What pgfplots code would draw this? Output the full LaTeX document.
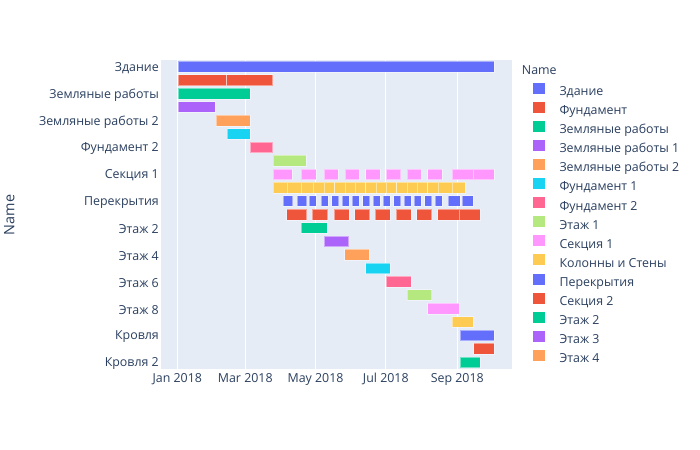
\documentclass[border=0pt]{standalone}
\usepackage{fontspec}
\setmainfont{Open Sans}
\usepackage{pgfplots}
\pgfplotsset{compat=1.18}
\definecolor{c0}{HTML}{636EFA}
\definecolor{c1}{HTML}{EF553B}
\definecolor{c2}{HTML}{00CC96}
\definecolor{c3}{HTML}{AB63FA}
\definecolor{c4}{HTML}{FFA15A}
\definecolor{c5}{HTML}{19D3F3}
\definecolor{c6}{HTML}{FF6692}
\definecolor{c7}{HTML}{B6E880}
\definecolor{c8}{HTML}{FF97FF}
\definecolor{c9}{HTML}{FECB52}
\definecolor{bgc}{HTML}{E5ECF6}
\definecolor{tc}{HTML}{2A3F5F}
% \gb{row}{start day}{end day}{colour}
\newcommand{\gb}[4]{%
  \pgfmathsetmacro\ylo{#1-0.4}\pgfmathsetmacro\yhi{#1+0.4}%
  \edef\tmp{\noexpand\addplot[forget plot, fill=#4, draw=white, draw opacity=0.45, line width=0.6bp]
    coordinates {(#2,\ylo) (#3,\ylo) (#3,\yhi) (#2,\yhi)} -- cycle;}\tmp}
\begin{document}
\begin{tikzpicture}
\useasboundingbox (0,0) rectangle (700bp,450bp);
\begin{axis}[
  at={(161bp,81bp)}, anchor=south west,
  scale only axis, width=350.5bp, height=309bp,
  xmin=-14.15, xmax=290.1,
  ymin=-0.5, ymax=22.5, y dir=reverse,
  axis background/.style={fill=bgc},
  axis line style={draw=none},
  major tick length=0pt,
  xmajorgrids, grid style={white, line width=1bp},
  xtick={0,59,120,181,243},
  xticklabels={Jan 2018, Mar 2018, May 2018, Jul 2018, Sep 2018},
  ytick={0,2,4,6,8,10,12,14,16,18,20,22},
  yticklabels={Здание, Земляные работы, Земляные работы 2, Фундамент 2, Секция 1, Перекрытия, Этаж 2, Этаж 4, Этаж 6, Этаж 8, Кровля, Кровля 2},
  xticklabel style={font=\fontsize{12.4bp}{14bp}\selectfont, text=tc, inner sep=0pt, anchor=north, yshift=-4bp},
  yticklabel style={font=\fontsize{12.4bp}{14bp}\selectfont, text=tc, inner sep=0pt, anchor=east, xshift=-2bp, yshift=-1.3bp},
  legend image code/.code={\fill[#1, draw=none] (0bp,-1.2bp) rectangle (12bp,9.8bp);},
  legend cell align=left,
  legend style={at={(1,1)}, anchor=north west, xshift=21.5bp, yshift=-22.5bp,
    draw=none, fill=none, inner sep=0pt, row sep=3.63bp, column sep=14.3bp,
    nodes={inner sep=0pt, text height=8.7bp, text depth=2.6bp, font=\fontsize{12.4bp}{14bp}\selectfont, text=tc}},
]
\gb{0}{0.9}{275.2}{c0}
\gb{1}{0.9}{42.9}{c1}
\gb{1}{42.9}{82.8}{c1}
\gb{2}{0.9}{63}{c2}
\gb{3}{0.9}{32.7}{c3}
\gb{4}{33.6}{63}{c4}
\gb{5}{43.4}{63}{c5}
\gb{6}{63.4}{82.8}{c6}
\gb{7}{83.3}{111.7}{c7}
% Sekciya 1
\gb{8}{83.3}{99.8}{c8}
\gb{8}{107.4}{120.5}{c8}
\gb{8}{127.3}{139.8}{c8}
\gb{8}{145.8}{158}{c8}
\gb{8}{163.5}{175.8}{c8}
\gb{8}{181.4}{193.9}{c8}
\gb{8}{199.4}{211.8}{c8}
\gb{8}{217.4}{229.8}{c8}
\gb{8}{238.5}{257}{c8}
\gb{8}{257}{275.2}{c8}
% Kolonny i steny
\gb{9}{83.3}{95.2}{c9}
\gb{9}{95.2}{107.4}{c9}
\gb{9}{107.4}{117.8}{c9}
\gb{9}{117.8}{127.3}{c9}
\gb{9}{127.3}{136.6}{c9}
\gb{9}{136.6}{145.5}{c9}
\gb{9}{145.5}{154.2}{c9}
\gb{9}{154.2}{163.5}{c9}
\gb{9}{163.5}{172.4}{c9}
\gb{9}{172.4}{181.4}{c9}
\gb{9}{181.4}{190.4}{c9}
\gb{9}{190.4}{199.4}{c9}
\gb{9}{199.4}{208.3}{c9}
\gb{9}{208.3}{217.4}{c9}
\gb{9}{217.4}{226.3}{c9}
\gb{9}{226.3}{238.5}{c9}
\gb{9}{238.5}{249.8}{c9}
% Perekrytiya
\gb{10}{92}{100.2}{c0}
\gb{10}{104.2}{112.3}{c0}
\gb{10}{114.5}{120.5}{c0}
\gb{10}{124.7}{130.8}{c0}
\gb{10}{133.9}{140}{c0}
\gb{10}{142.9}{149}{c0}
\gb{10}{151.9}{158}{c0}
\gb{10}{160.9}{167}{c0}
\gb{10}{169.9}{176}{c0}
\gb{10}{178.8}{184.9}{c0}
\gb{10}{187.9}{194}{c0}
\gb{10}{196.8}{202.9}{c0}
\gb{10}{205.8}{211.9}{c0}
\gb{10}{214.8}{220.9}{c0}
\gb{10}{223.7}{229.8}{c0}
\gb{10}{235.3}{245.3}{c0}
\gb{10}{247.2}{257.1}{c0}
% Sekciya 2
\gb{11}{95}{112.3}{c1}
\gb{11}{117.2}{130.5}{c1}
\gb{11}{136}{149}{c1}
\gb{11}{154}{167}{c1}
\gb{11}{171.9}{184.9}{c1}
\gb{11}{189.8}{202.9}{c1}
\gb{11}{207.8}{220.9}{c1}
\gb{11}{226}{244.5}{c1}
\gb{11}{244.5}{263}{c1}
% Etazhi
\gb{12}{107.4}{130.2}{c2}
\gb{13}{127.3}{148.8}{c3}
\gb{14}{145.3}{166.7}{c4}
\gb{15}{163.5}{184.6}{c5}
\gb{16}{181.4}{202.9}{c6}
\gb{17}{199.4}{220.8}{c7}
\gb{18}{217.4}{244.8}{c8}
\gb{19}{238.5}{257}{c9}
\gb{20}{245.4}{275.2}{c0}
\gb{21}{257.3}{275.2}{c1}
\gb{22}{245.4}{263}{c2}
% legend
\addlegendimage{fill=c0}\addlegendentry{Здание}
\addlegendimage{fill=c1}\addlegendentry{Фундамент}
\addlegendimage{fill=c2}\addlegendentry{Земляные работы}
\addlegendimage{fill=c3}\addlegendentry{Земляные работы 1}
\addlegendimage{fill=c4}\addlegendentry{Земляные работы 2}
\addlegendimage{fill=c5}\addlegendentry{Фундамент 1}
\addlegendimage{fill=c6}\addlegendentry{Фундамент 2}
\addlegendimage{fill=c7}\addlegendentry{Этаж 1}
\addlegendimage{fill=c8}\addlegendentry{Секция 1}
\addlegendimage{fill=c9}\addlegendentry{Колонны и Стены}
\addlegendimage{fill=c0}\addlegendentry{Перекрытия}
\addlegendimage{fill=c1}\addlegendentry{Секция 2}
\addlegendimage{fill=c2}\addlegendentry{Этаж 2}
\addlegendimage{fill=c3}\addlegendentry{Этаж 3}
\addlegendimage{fill=c4}\addlegendentry{Этаж 4}
\end{axis}
\node[anchor=base west, inner sep=0pt, font=\fontsize{12.4bp}{14bp}\selectfont, text=tc] at (521.7bp,375bp) {Name};
\node[rotate=90, inner sep=0pt, font=\fontsize{14.4bp}{16bp}\selectfont, text=tc] at (9.3bp,235bp) {Name};
\end{tikzpicture}
\end{document}
